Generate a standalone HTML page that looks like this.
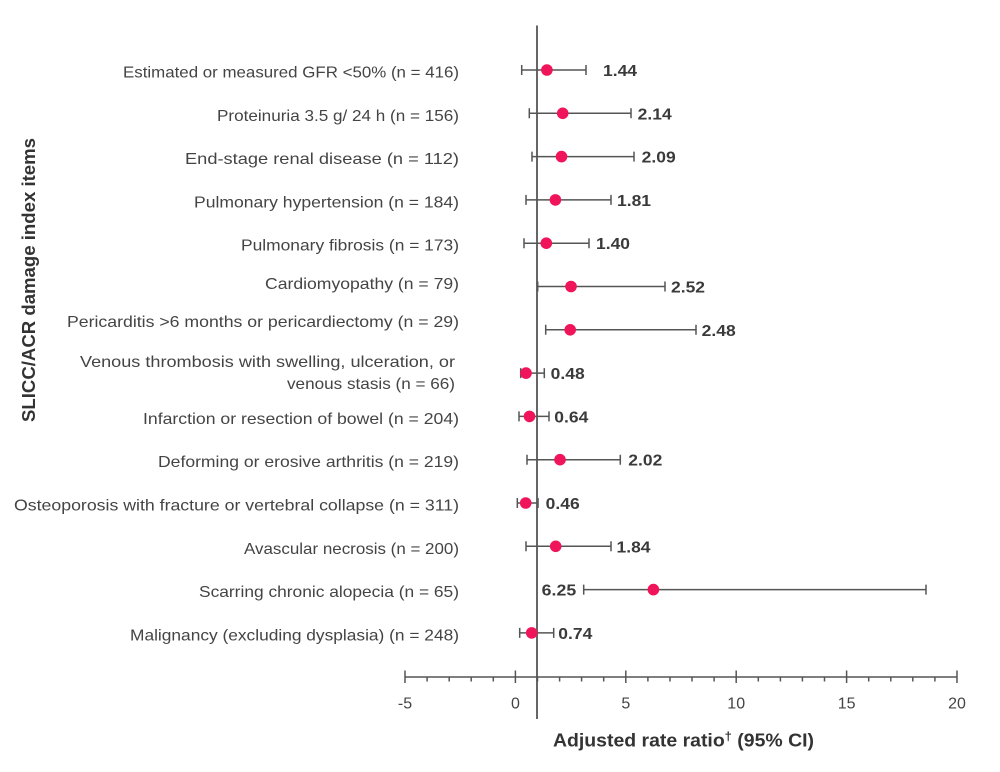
<!DOCTYPE html>
<html>
<head>
<meta charset="utf-8">
<style>
  html, body { margin:0; padding:0; background:#ffffff; }
  svg { display:block; }
  .lab { font-family:"Liberation Sans", sans-serif; font-size:16px; fill:#444; }
  .val { font-family:"Liberation Sans", sans-serif; font-size:16px; font-weight:bold; fill:#3a3a3a; }
  .tick { font-family:"Liberation Sans", sans-serif; font-size:16px; fill:#444; }
  .ttl { font-family:"Liberation Sans", sans-serif; font-size:18px; font-weight:bold; fill:#333; }
  .eb { stroke:#555; stroke-width:1.5; fill:none; }
  .dot { fill:#f0145a; }
</style>
</head>
<body>
<svg width="1000" height="772" viewBox="0 0 1000 772" xmlns="http://www.w3.org/2000/svg">
  <rect width="1000" height="772" fill="#ffffff"/>

  <!-- Y axis title -->
  <text class="ttl" transform="translate(35,280) rotate(-90)" text-anchor="middle" textLength="284" lengthAdjust="spacingAndGlyphs">SLICC/ACR damage index items</text>

  <!-- Row labels -->
  <text class="lab" x="459" y="77.5" text-anchor="end" textLength="336" lengthAdjust="spacingAndGlyphs">Estimated or measured GFR &lt;50% (n = 416)</text>
  <text class="lab" x="459" y="120.8" text-anchor="end" textLength="242" lengthAdjust="spacingAndGlyphs">Proteinuria 3.5 g/ 24 h (n = 156)</text>
  <text class="lab" x="459" y="164.1" text-anchor="end" textLength="274" lengthAdjust="spacingAndGlyphs">End-stage renal disease (n = 112)</text>
  <text class="lab" x="459" y="207.4" text-anchor="end" textLength="265" lengthAdjust="spacingAndGlyphs">Pulmonary hypertension (n = 184)</text>
  <text class="lab" x="459" y="250.7" text-anchor="end" textLength="218" lengthAdjust="spacingAndGlyphs">Pulmonary fibrosis (n = 173)</text>
  <text class="lab" x="459" y="289" text-anchor="end" textLength="194" lengthAdjust="spacingAndGlyphs">Cardiomyopathy (n = 79)</text>
  <text class="lab" x="459" y="327" text-anchor="end" textLength="392" lengthAdjust="spacingAndGlyphs">Pericarditis &gt;6 months or pericardiectomy (n = 29)</text>
  <text class="lab" x="455" y="367" text-anchor="end" textLength="375" lengthAdjust="spacingAndGlyphs">Venous thrombosis with swelling, ulceration, or</text>
  <text class="lab" x="455" y="389" text-anchor="end" textLength="168" lengthAdjust="spacingAndGlyphs">venous stasis (n = 66)</text>
  <text class="lab" x="459" y="423.9" text-anchor="end" textLength="316" lengthAdjust="spacingAndGlyphs">Infarction or resection of bowel (n = 204)</text>
  <text class="lab" x="459" y="467.2" text-anchor="end" textLength="301" lengthAdjust="spacingAndGlyphs">Deforming or erosive arthritis (n = 219)</text>
  <text class="lab" x="459" y="510.5" text-anchor="end" textLength="445" lengthAdjust="spacingAndGlyphs">Osteoporosis with fracture or vertebral collapse (n = 311)</text>
  <text class="lab" x="459" y="553.8" text-anchor="end" textLength="215" lengthAdjust="spacingAndGlyphs">Avascular necrosis (n = 200)</text>
  <text class="lab" x="459" y="597.1" text-anchor="end" textLength="260" lengthAdjust="spacingAndGlyphs">Scarring chronic alopecia (n = 65)</text>
  <text class="lab" x="459" y="640.4" text-anchor="end" textLength="329" lengthAdjust="spacingAndGlyphs">Malignancy (excluding dysplasia) (n = 248)</text>

  <!-- Vertical reference line at 1 -->
  <line x1="537" y1="25.5" x2="537" y2="719" stroke="#666" stroke-width="2"/>

  <!-- X axis -->
  <line x1="405" y1="677" x2="957" y2="677" stroke="#555" stroke-width="1.6"/>
  <g stroke="#555" stroke-width="1.5">
    <line x1="405" y1="670.5" x2="405" y2="683"/>
    <line x1="515.4" y1="670.5" x2="515.4" y2="683"/>
    <line x1="625.8" y1="670.5" x2="625.8" y2="683"/>
    <line x1="736.2" y1="670.5" x2="736.2" y2="683"/>
    <line x1="846.6" y1="670.5" x2="846.6" y2="683"/>
    <line x1="957" y1="670.5" x2="957" y2="683"/>
    <line x1="427.1" y1="677" x2="427.1" y2="681.5"/>
    <line x1="449.2" y1="677" x2="449.2" y2="681.5"/>
    <line x1="471.2" y1="677" x2="471.2" y2="681.5"/>
    <line x1="493.3" y1="677" x2="493.3" y2="681.5"/>
    <line x1="537.5" y1="677" x2="537.5" y2="681.5"/>
    <line x1="559.6" y1="677" x2="559.6" y2="681.5"/>
    <line x1="581.6" y1="677" x2="581.6" y2="681.5"/>
    <line x1="603.7" y1="677" x2="603.7" y2="681.5"/>
    <line x1="647.9" y1="677" x2="647.9" y2="681.5"/>
    <line x1="670.0" y1="677" x2="670.0" y2="681.5"/>
    <line x1="692.0" y1="677" x2="692.0" y2="681.5"/>
    <line x1="714.1" y1="677" x2="714.1" y2="681.5"/>
    <line x1="758.3" y1="677" x2="758.3" y2="681.5"/>
    <line x1="780.4" y1="677" x2="780.4" y2="681.5"/>
    <line x1="802.4" y1="677" x2="802.4" y2="681.5"/>
    <line x1="824.5" y1="677" x2="824.5" y2="681.5"/>
    <line x1="868.7" y1="677" x2="868.7" y2="681.5"/>
    <line x1="890.8" y1="677" x2="890.8" y2="681.5"/>
    <line x1="912.8" y1="677" x2="912.8" y2="681.5"/>
    <line x1="934.9" y1="677" x2="934.9" y2="681.5"/>
  </g>
  <text class="tick" x="405" y="708.5" text-anchor="middle">-5</text>
  <text class="tick" x="515.4" y="708.5" text-anchor="middle">0</text>
  <text class="tick" x="625.8" y="708.5" text-anchor="middle">5</text>
  <text class="tick" x="736.2" y="708.5" text-anchor="middle">10</text>
  <text class="tick" x="846.6" y="708.5" text-anchor="middle">15</text>
  <text class="tick" x="957" y="708.5" text-anchor="middle">20</text>

  <!-- X axis title -->
  <text class="ttl" x="553" y="746.5" textLength="261" lengthAdjust="spacingAndGlyphs">Adjusted rate ratio<tspan font-size="12" dy="-6">†</tspan><tspan dy="6"> (95% CI)</tspan></text>

  <!-- Error bars -->
  <g class="eb">
    <path d="M521.7 70 H586 M521.7 65 V75 M586 65 V75"/>
    <path d="M529.3 113.3 H631 M529.3 108.3 V118.3 M631 108.3 V118.3"/>
    <path d="M532 156.6 H634 M532 151.6 V161.6 M634 151.6 V161.6"/>
    <path d="M526 199.9 H611 M526 194.9 V204.9 M611 194.9 V204.9"/>
    <path d="M524 243.2 H589 M524 238.2 V248.2 M589 238.2 V248.2"/>
    <path d="M537.7 286.5 H665 M537.7 281.5 V291.5 M665 281.5 V291.5"/>
    <path d="M545.7 329.8 H696 M545.7 324.8 V334.8 M696 324.8 V334.8"/>
    <path d="M520.7 373.1 H544.3 M520.7 368.1 V378.1 M544.3 368.1 V378.1"/>
    <path d="M519 416.4 H549 M519 411.4 V421.4 M549 411.4 V421.4"/>
    <path d="M527 459.7 H620.3 M527 454.7 V464.7 M620.3 454.7 V464.7"/>
    <path d="M517.3 503 H538 M517.3 498 V508 M538 498 V508"/>
    <path d="M526 546.3 H611 M526 541.3 V551.3 M611 541.3 V551.3"/>
    <path d="M583.7 589.6 H926 M583.7 584.6 V594.6 M926 584.6 V594.6"/>
    <path d="M519.7 632.9 H553.7 M519.7 627.9 V637.9 M553.7 627.9 V637.9"/>
  </g>

  <!-- Points -->
  <g class="dot">
    <circle cx="546.9" cy="70" r="5.8"/>
    <circle cx="562.7" cy="113.3" r="5.8"/>
    <circle cx="561.5" cy="156.6" r="5.8"/>
    <circle cx="555.4" cy="199.9" r="5.8"/>
    <circle cx="546.3" cy="243.2" r="5.8"/>
    <circle cx="571" cy="286.5" r="5.8"/>
    <circle cx="570.2" cy="329.8" r="5.8"/>
    <circle cx="526" cy="373.1" r="5.8"/>
    <circle cx="529.5" cy="416.4" r="5.8"/>
    <circle cx="560" cy="459.7" r="5.8"/>
    <circle cx="525.7" cy="503" r="5.8"/>
    <circle cx="555.7" cy="546.3" r="5.8"/>
    <circle cx="653.4" cy="589.6" r="5.8"/>
    <circle cx="531.7" cy="632.9" r="5.8"/>
  </g>

  <!-- Value labels -->
  <text class="val" x="603" y="76" textLength="34" lengthAdjust="spacingAndGlyphs">1.44</text>
  <text class="val" x="637.7" y="119.3" textLength="34" lengthAdjust="spacingAndGlyphs">2.14</text>
  <text class="val" x="641.7" y="162.6" textLength="34" lengthAdjust="spacingAndGlyphs">2.09</text>
  <text class="val" x="617" y="205.9" textLength="34" lengthAdjust="spacingAndGlyphs">1.81</text>
  <text class="val" x="596" y="249.2" textLength="34" lengthAdjust="spacingAndGlyphs">1.40</text>
  <text class="val" x="671" y="292.5" textLength="34" lengthAdjust="spacingAndGlyphs">2.52</text>
  <text class="val" x="701.7" y="335.8" textLength="34" lengthAdjust="spacingAndGlyphs">2.48</text>
  <text class="val" x="550.7" y="379.1" textLength="34" lengthAdjust="spacingAndGlyphs">0.48</text>
  <text class="val" x="554.3" y="422.4" textLength="34" lengthAdjust="spacingAndGlyphs">0.64</text>
  <text class="val" x="628.3" y="465.7" textLength="34" lengthAdjust="spacingAndGlyphs">2.02</text>
  <text class="val" x="545.7" y="509" textLength="34" lengthAdjust="spacingAndGlyphs">0.46</text>
  <text class="val" x="616.5" y="552.3" textLength="34" lengthAdjust="spacingAndGlyphs">1.84</text>
  <text class="val" x="541.7" y="595.6" textLength="34.5" lengthAdjust="spacingAndGlyphs">6.25</text>
  <text class="val" x="558.3" y="638.9" textLength="34" lengthAdjust="spacingAndGlyphs">0.74</text>
</svg>
</body>
</html>
